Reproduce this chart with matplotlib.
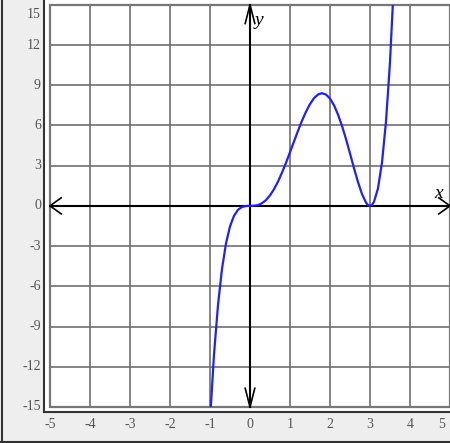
import matplotlib
matplotlib.use("Agg")
import matplotlib.pyplot as plt
from matplotlib.patches import Rectangle
from matplotlib.lines import Line2D

# Curve points
curve_x = [-1.0, -0.9, -0.8, -0.7, -0.6, -0.5, -0.4, -0.3, -0.2, -0.1, 0.0,
           0.1, 0.2, 0.3, 0.4, 0.5, 0.6, 0.7, 0.8, 0.9, 1.0,
           1.1, 1.2, 1.3, 1.4, 1.5, 1.6, 1.7, 1.8, 1.9, 2.0,
           2.1, 2.2, 2.3, 2.4, 2.5, 2.6, 2.7, 2.8, 2.9, 2.95, 3.0, 3.05,
           3.1, 3.2, 3.3, 3.4, 3.5, 3.6]
curve_y = [-16.0, -11.09, -7.39, -4.70, -2.80, -1.53, -0.74, -0.29, -0.08, -0.01, 0.0,
           0.01, 0.06, 0.20, 0.43, 0.78, 1.24, 1.81, 2.48, 3.21, 4.0,
           4.80, 5.60, 6.35, 7.02, 7.59, 8.03, 8.30, 8.40, 8.30, 8.0,
           7.50, 6.81, 5.96, 4.98, 3.91, 2.81, 1.77, 0.88, 0.24, 0.06, 0.0, 0.07,
           0.30, 1.31, 3.23, 6.29, 10.72, 16.80]

x_ticks = [-5, -4, -3, -2, -1, 0, 1, 2, 3, 4, 5]
y_ticks = [-15, -12, -9, -6, -3, 0, 3, 6, 9, 12, 15]
x_tick_labels = ["-5", "-4", "-3", "-2", "-1", "0", "1", "2", "3", "4", "5"]
y_tick_labels = ["-15", "-12", "-9", "-6", "-3", "0", "3", "6", "9", "12", "15"]

W, H = 450, 443
fig = plt.figure(figsize=(W / 100, H / 100), dpi=100)
fig.patch.set_facecolor("#eeeeee")

ax_left, ax_right, ax_top, ax_bottom = 44, 450, 0, 412
ax = fig.add_axes([ax_left / W, 1 - ax_bottom / H, (ax_right - ax_left) / W, (ax_bottom - ax_top) / H])
ax.set_facecolor("white")
ax.set_xlim(-5.15, 5.0)
ax.set_ylim(-15.37, 15.35)

for s in ["top", "right"]:
    ax.spines[s].set_visible(False)
for s in ["left", "bottom"]:
    ax.spines[s].set_color("#333333")
    ax.spines[s].set_linewidth(1.5)

ax.set_xticks([])
ax.set_yticks([])

# grid
for xv in x_ticks:
    ax.plot([xv, xv], [-15, 15], color="#6e6e6e", lw=1.2, zorder=1)
for yv in y_ticks:
    ax.plot([-5, 5], [yv, yv], color="#6e6e6e", lw=1.2, zorder=1)

frame = Rectangle((-5, -15), 10, 30, fill=False, edgecolor="#777777", lw=1.6, zorder=2)
ax.add_patch(frame)

# axes with arrowheads
ax.plot([-5, 5], [0, 0], color="black", lw=1.5, zorder=3)
ax.plot([0, 0], [-15, 15], color="black", lw=1.5, zorder=3)
ax.plot([-4.72, -5, -4.72], [0.6, 0, -0.6], color="black", lw=1.2, zorder=3)
ax.plot([4.72, 5, 4.72], [0.6, 0, -0.6], color="black", lw=1.2, zorder=3)
ax.plot([-0.12, 0, 0.12], [13.6, 15, 13.6], color="black", lw=1.2, zorder=3)
ax.plot([-0.12, 0, 0.12], [-13.6, -15, -13.6], color="black", lw=1.2, zorder=3)

ax.text(4.72, 0.3, "x", fontsize=14, family="Liberation Serif", style="italic", va="bottom", ha="center")
ax.text(0.12, 13.2, "y", fontsize=14, family="Liberation Serif", style="italic", va="bottom", ha="left")

line, = ax.plot(curve_x, curve_y, color="#2020ff", lw=1.6, zorder=4)
line.set_clip_path(Rectangle((-5, -15), 10, 30, transform=ax.transData))

# tick labels
for xv, lab in zip(x_ticks, x_tick_labels):
    px = 50 + (xv + 5) * 40
    if xv == 5:
        px = 442
    fig.text(px / W, 1 - 425 / H, lab, fontsize=10, family="Liberation Serif", color="#555555",
             ha="center", va="center")
for yv, lab in zip(y_ticks, y_tick_labels):
    py = 206 - yv * 13.4
    if yv == 15:
        py = 15
    fig.text(41 / W, 1 - py / H, lab, fontsize=10, family="Liberation Serif", color="#555555",
             ha="right", va="center")

# outer border lines
fig.add_artist(Line2D([1.5 / W, 1.5 / W], [0, 1], color="#333333", lw=1.5))
fig.add_artist(Line2D([0, 1], [1 - 441.5 / H, 1 - 441.5 / H], color="#333333", lw=1.5))

fig.savefig("out.png", dpi=100, facecolor=fig.get_facecolor())
